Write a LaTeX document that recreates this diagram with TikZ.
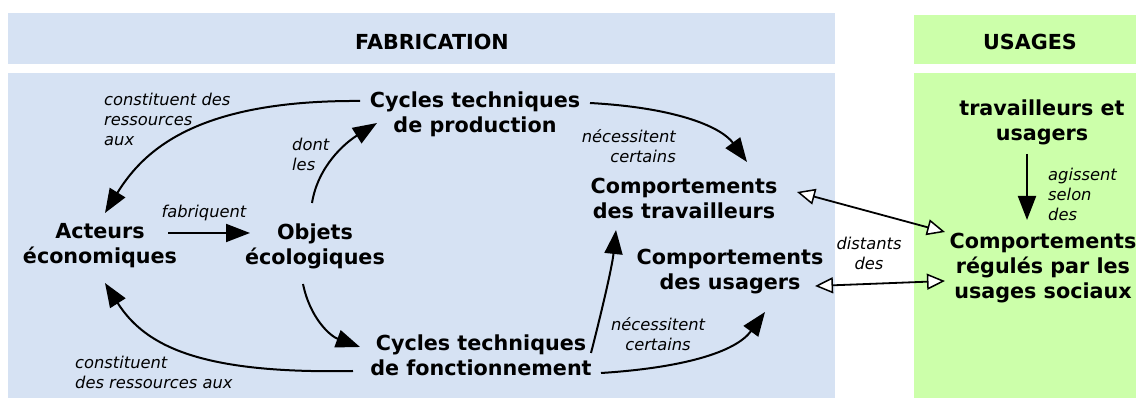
\documentclass[tikz,border=0pt]{standalone}
\usepackage{fontspec}
\setmainfont{DejaVu Sans}
\usetikzlibrary{arrows.meta,calc}
\definecolor{fabblue}{RGB}{214,226,243}
\definecolor{usegreen}{RGB}{204,255,170}
\begin{document}
\begin{tikzpicture}[x=1pt,y=1pt,
  box/.style={font=\bfseries\fontsize{20.7}{25}\selectfont, align=center, inner sep=2pt},
  hdr/.style={font=\bfseries\fontsize{20.7}{25}\selectfont, inner sep=0pt},
  lab/.style={font=\itshape\fontsize{16.3}{20}\selectfont, inner sep=0pt},
  arr/.style={line width=2pt, -{Triangle[length=24pt,width=18pt]}},
  dbl/.style={line width=1.8pt, {Triangle[length=18pt,width=16pt,fill=white,line width=1.5pt]}-{Triangle[length=18pt,width=16pt,fill=white,line width=1.5pt]}},
]
\useasboundingbox (0,0) rectangle (1136,398);
% panels
\fill[fabblue] (8,334) rectangle (835,385);
\fill[fabblue] (8,0) rectangle (835,325);
\fill[usegreen] (914,334) rectangle (1136,383);
\fill[usegreen] (914,0) rectangle (1136,325);
\node[hdr] (hfab) at (432,356) {FABRICATION};
\node[hdr] (huse) at (1030,356) {USAGES};
% nodes
\node[box] (act) at (100,152) {Acteurs\\économiques};
\node[box] (obj) at (315,152) {Objets\\écologiques};
\node[box] (cprod) at (475,284) {Cycles techniques\\de production};
\node[box] (cfonc) at (481,43) {Cycles techniques\\de fonctionnement};
\node[box] (ctrav) at (684,200) {Comportements\\des travailleurs};
\node[box] (cusag) at (730,126) {Comportements\\des usagers};
\node[box] (tu) at (1042,276) {travailleurs et\\usagers};
\node[box] (creg) at (1043,130) {Comportements\\régulés par les\\usages sociaux};
% labels
\node[lab, align=left, anchor=west] (l1) at (104,279) {constituent des\\ressources\\aux};
\node[lab, align=left, anchor=west] (l2) at (292,244) {dont\\les};
\node[lab] (l3) at (204,185) {fabriquent};
\node[lab, align=left, anchor=west] (l4) at (75,26) {constituent\\des ressources aux};
\node[lab, align=right, anchor=east] (l5) at (676,252) {nécessitent\\certains};
\node[lab, align=center] (l6) at (658,64) {nécessitent\\certains};
\node[lab, align=center] (l7) at (869,145) {distants\\des};
\node[lab, align=left, anchor=west] (l8) at (1048,204) {agissent\\selon\\des};
% connectors
\draw[arr] ([shift={(-115,13)}]cprod.center) .. controls (200,298) and (145,250) .. ([shift={(5,33)}]act.center);
\draw[arr] ([shift={(-128,-16)}]cfonc.center) .. controls (200,24) and (145,52) .. ([shift={(5,-37)}]act.center);
\draw[arr] ([shift={(68,13)}]act.center) -- ([shift={(-65,13)}]obj.center);
\draw[arr] ([shift={(-3,43)}]obj.center) .. controls (318,232) and (345,255) .. ([shift={(-98,-9)}]cprod.center);
\draw[arr] ([shift={(-12,-38)}]obj.center) .. controls (310,80) and (330,62) .. ([shift={(-121,8)}]cfonc.center);
\draw[arr] ([shift={(115,11)}]cprod.center) .. controls (680,290) and (722,270) .. ([shift={(63,36)}]ctrav.center);
\draw[arr] ([shift={(110,2)}]cfonc.center) .. controls (600,80) and (612,130) .. ([shift={(-68,-32)}]ctrav.center);
\draw[arr] ([shift={(120,-18)}]cfonc.center) .. controls (680,30) and (735,45) .. ([shift={(35,-40)}]cusag.center);
\draw[arr] ([shift={(-15,-32)}]tu.center) -- ([shift={(-16,48)}]creg.center);
\draw[dbl] ([shift={(113,6)}]ctrav.center) -- ([shift={(-98,36)}]creg.center);
\draw[dbl] ([shift={(85,-14)}]cusag.center) -- ([shift={(-98,-13)}]creg.center);
\end{tikzpicture}
\end{document}
